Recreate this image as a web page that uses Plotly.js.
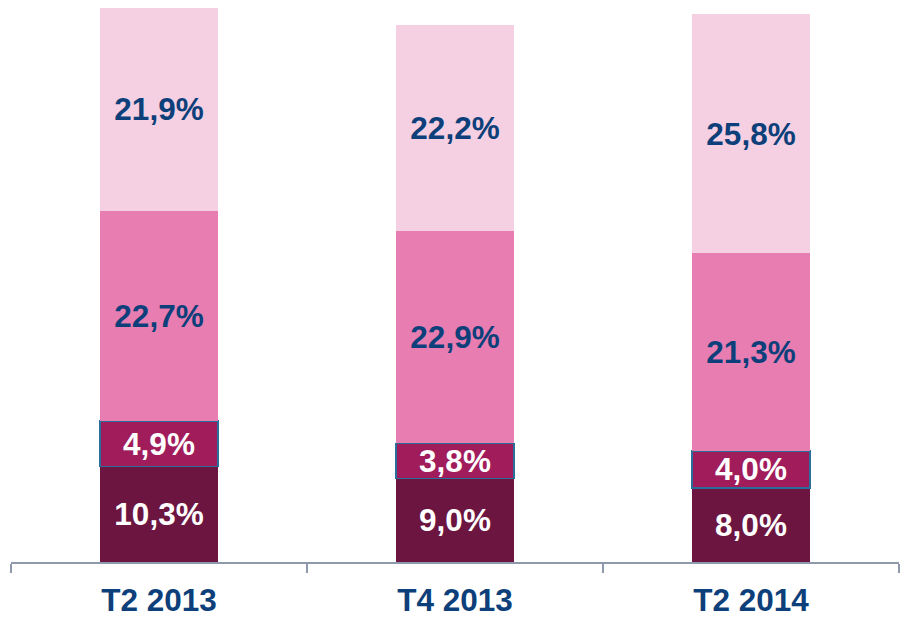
<!DOCTYPE html>
<html>
<head>
<meta charset="utf-8">
<script src="https://cdn.plot.ly/plotly-3.0.1.min.js"></script>
<style>html,body{margin:0;padding:0;background:#fff;}#chart{width:904px;height:620px;}</style>
</head>
<body>
<div id="chart"></div>
<script>
var categories = ["T2 2013", "T4 2013", "T2 2014"];
var seriesDark = [10.3, 9.0, 8.0];
var seriesMagenta = [4.9, 3.8, 4.0];
var seriesPink = [22.7, 22.9, 21.3];
var seriesLight = [21.9, 22.2, 25.8];

function fmt(v) { return v.toFixed(1).replace(".", ",") + "%"; }

var valueFont = {family: "Liberation Sans, Arial, sans-serif", size: 31.5};

function mk(vals, color, textColor, line) {
  return {
    type: "bar",
    x: categories,
    y: vals,
    width: 0.4,
    text: vals.map(fmt),
    textposition: "inside",
    insidetextanchor: "middle",
    constraintext: "none",
    textangle: 0,
    texttemplate: "<b>%{text}</b>",
    textfont: {family: valueFont.family, size: valueFont.size, color: textColor},
    marker: {color: color, line: line || {width: 0}},
    hoverinfo: "skip"
  };
}

var data = [
  mk(seriesDark, "#6B1540", "#FFFFFF"),
  mk(seriesMagenta, "#A11C5B", "#FFFFFF", {color: "#2A6E9C", width: 1.5}),
  mk(seriesPink, "#E87DB1", "#0D3F7A"),
  mk(seriesLight, "#F5D0E2", "#0D3F7A")
];

var layout = {
  width: 904, height: 620,
  margin: {l: 11, r: 5, t: 6, b: 58},
  barmode: "stack",
  showlegend: false,
  paper_bgcolor: "#FFFFFF",
  plot_bgcolor: "#FFFFFF",
  xaxis: {
    type: "category",
    range: [-0.5, 2.5],
    showgrid: false,
    zeroline: false,
    showline: true,
    linecolor: "#8E99AE",
    linewidth: 2,
    ticks: "outside",
    tickson: "boundaries",
    ticklen: 9,
    tickwidth: 2,
    tickcolor: "#8E99AE",
    ticklabelstandoff: 9,
    tickfont: {family: "Liberation Sans, Arial, sans-serif", size: 31.5, color: "#0D3F7A", weight: "bold"},
    fixedrange: true
  },
  yaxis: {
    range: [0, 60],
    visible: false,
    showgrid: false,
    zeroline: false,
    fixedrange: true
  }
};

Plotly.newPlot("chart", data, layout, {displayModeBar: false, staticPlot: true});
</script>
</body>
</html>
